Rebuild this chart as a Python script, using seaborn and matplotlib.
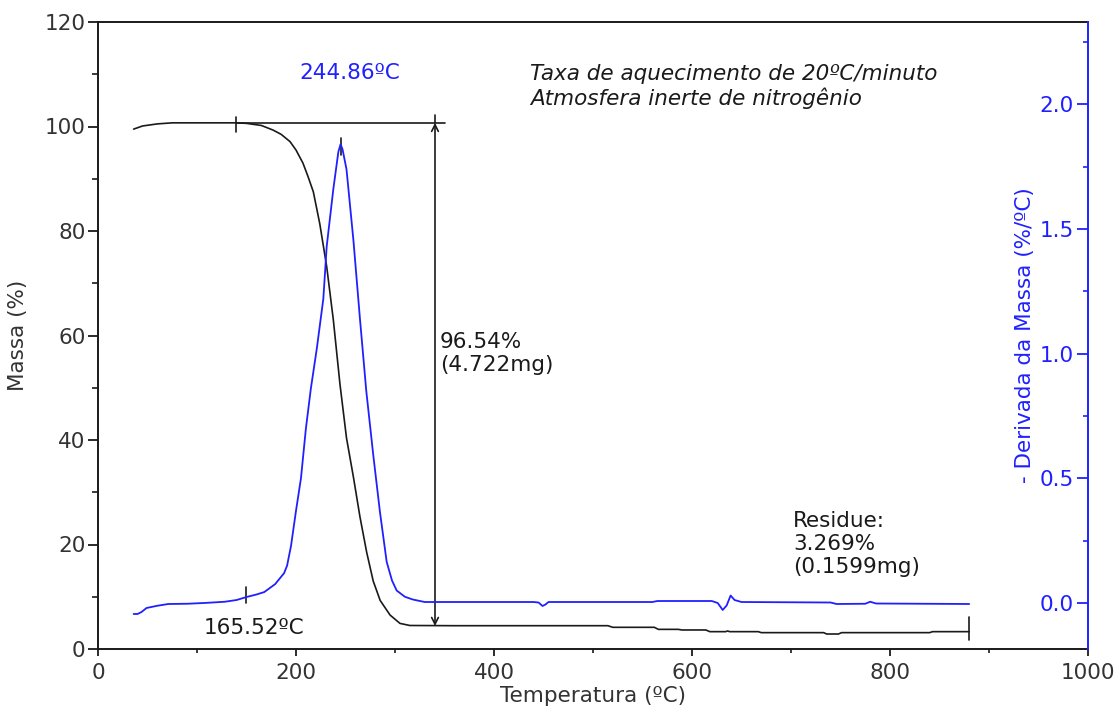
import matplotlib
matplotlib.use("Agg")
import matplotlib.pyplot as plt
from matplotlib.ticker import MultipleLocator
import seaborn as sns
import pandas as pd

# ----------------------------------------------------------------------
# Data read off the TGA / DTG chart
# ----------------------------------------------------------------------
mass_temp = [36, 45, 60, 75, 100, 140, 150, 165, 177, 185, 194, 200, 207, 212,
             217.5, 224, 231, 237.7, 244.4, 251, 258, 264.6, 271.4, 278, 285,
             295, 305, 315, 360, 515, 520, 562, 566, 586, 590, 614, 618, 634,
             636, 638, 667, 670, 733, 736, 748, 751, 840, 843, 880]
mass_pct = [99.5, 100.1, 100.5, 100.7, 100.7, 100.7, 100.6, 100.2, 99.3, 98.5,
            97.1, 95.5, 93.0, 90.5, 87.5, 81.4, 73.2, 63.0, 50.7, 40.4, 32.9,
            25.3, 18.5, 13.0, 9.3, 6.5, 4.9, 4.5, 4.46, 4.46, 4.15, 4.15, 3.76,
            3.76, 3.64, 3.64, 3.32, 3.32, 3.45, 3.32, 3.32, 3.13, 3.13, 2.87,
            2.87, 3.13, 3.13, 3.32, 3.32]

deriv_temp = [36, 40, 44, 49, 60, 71, 90, 107, 128, 140, 150, 160, 168, 179,
              188, 191, 195, 200, 205, 210, 215, 221, 227.6, 231, 237.7, 242.8,
              245, 247, 251, 258, 264.6, 271, 278, 284.8, 291.6, 297, 301.7,
              310, 318, 330, 440, 445, 449, 452, 455, 560, 565, 620, 626, 631,
              635, 639, 643, 650, 740, 746, 775, 780, 786, 880]
deriv_val = [-0.044, -0.044, -0.036, -0.02, -0.011, -0.004, -0.003, 0.0, 0.005,
             0.012, 0.024, 0.034, 0.044, 0.076, 0.12, 0.15, 0.23, 0.37, 0.50,
             0.70, 0.86, 1.02, 1.22, 1.43, 1.66, 1.81, 1.84, 1.82, 1.74, 1.455,
             1.14, 0.85, 0.595, 0.365, 0.165, 0.09, 0.05, 0.025, 0.014, 0.004,
             0.004, 0.002, -0.012, -0.006, 0.004, 0.004, 0.008, 0.008, 0.0,
             -0.028, -0.01, 0.03, 0.012, 0.004, 0.002, -0.004, -0.003, 0.005,
             -0.002, -0.004]

onset_temp = 139          # tangent mark on the mass curve
plateau_mass = 100.7
residue_mass = 4.4
step_temp = 340.4         # vertical double arrow
peak_temp = 245
dtg_mark_temp = 149.5
end_temp = 880

BLUE = "#2020ff"
INK = "#1a1a1a"
FS = 15.5

sns.set_theme(style="ticks")
plt.rcParams["font.family"] = ["DejaVu Sans"]
plt.rcParams["font.size"] = FS

fig = plt.figure(figsize=(11.2, 7.08), dpi=100)
ax = fig.add_axes([98 / 1120, 59 / 708, 990 / 1120, 627 / 708])
ax2 = ax.twinx()

mass_df = pd.DataFrame({"temp": mass_temp, "mass": mass_pct})
deriv_df = pd.DataFrame({"temp": deriv_temp, "deriv": deriv_val})

sns.lineplot(data=mass_df, x="temp", y="mass", ax=ax, color=INK, lw=1.2, sort=False)
sns.lineplot(data=deriv_df, x="temp", y="deriv", ax=ax2, color=BLUE, lw=1.3, sort=False)

# axes limits and ticks
ax.set_xlim(0, 1000)
ax.set_ylim(0, 120)
ax2.set_ylim(-0.1845, 2.3305)
ax.xaxis.set_major_locator(MultipleLocator(200))
ax.xaxis.set_minor_locator(MultipleLocator(100))
ax.yaxis.set_major_locator(MultipleLocator(20))
ax.yaxis.set_minor_locator(MultipleLocator(10))
ax2.yaxis.set_major_locator(MultipleLocator(0.5))
ax2.yaxis.set_minor_locator(MultipleLocator(0.25))
ax2.yaxis.set_major_formatter(plt.FormatStrFormatter("%.1f"))

ax.tick_params(axis="x", which="major", length=5, width=1.3, color=INK,
               labelcolor="#333333", labelsize=FS, pad=5)
ax.tick_params(axis="x", which="minor", length=3, width=1.2, color=INK)
ax.tick_params(axis="y", which="major", length=7, width=1.3, color=INK,
               labelcolor="#333333", labelsize=FS, pad=2)
ax.tick_params(axis="y", which="minor", length=4, width=1.2, color=INK)
ax.tick_params(axis="y", which="both", right=False)
ax2.tick_params(axis="y", which="major", direction="in", length=8, width=1.3,
                color=BLUE, labelcolor=BLUE, labelsize=FS, pad=-10)
ax2.tick_params(axis="y", which="minor", direction="in", length=3.5, width=1.2, color=BLUE)
plt.setp(ax2.get_yticklabels(), ha="right")

for s in ["left", "bottom", "top"]:
    ax.spines[s].set_color(INK)
    ax.spines[s].set_linewidth(1.4)
ax.spines["right"].set_visible(False)
ax2.spines["right"].set_color(BLUE)
ax2.spines["right"].set_linewidth(1.4)
for s in ["left", "bottom", "top"]:
    ax2.spines[s].set_visible(False)

ax.set_xlabel("Temperatura (ºC)", fontsize=FS, color="#333333", labelpad=2)
ax.set_ylabel("Massa (%)", fontsize=FS, color="#333333", labelpad=12)
ax2.set_ylabel("- Derivada da Massa (%/ºC)", fontsize=FS, color=BLUE,
               rotation=90, va="center", ha="center")
ax2.yaxis.set_label_coords(0.936, 0.5)

# step annotation
ax.plot([onset_temp, 351], [plateau_mass, plateau_mass], color=INK, lw=1.2)
ax.plot([onset_temp, onset_temp], [99.0, 101.8], color=INK, lw=1.2)
ax.plot([step_temp, step_temp], [plateau_mass, 102.2], color=INK, lw=1.2)
ax.annotate("", xy=(step_temp, plateau_mass), xytext=(step_temp, residue_mass),
            arrowprops=dict(arrowstyle="<->", color=INK, lw=1.2,
                            mutation_scale=12, shrinkA=0, shrinkB=0))
ax.text(step_temp + 5, 56.5, "96.54%\n(4.722mg)", fontsize=FS, color=INK,
        ha="left", va="center", linespacing=1.2)

# peak and onset of DTG
ax.plot([peak_temp, peak_temp], [94.5, 97.8], color=INK, lw=1.2)
ax.text(254, 110.2, "244.86ºC", fontsize=FS, color=BLUE, ha="center", va="center")
ax.plot([dtg_mark_temp, dtg_mark_temp], [8.8, 11.9], color=INK, lw=1.2)
ax.text(157.6, 4.0, "165.52ºC", fontsize=FS, color=INK, ha="center", va="center")

# residue
ax.plot([end_temp, end_temp], [1.7, 6.1], color=INK, lw=1.2)
ax.text(702, 20.1, "Residue:\n3.269%\n(0.1599mg)", fontsize=FS, color=INK,
        ha="left", va="center", linespacing=1.2)

ax.text(436.4, 107.75, "Taxa de aquecimento de 20ºC/minuto\nAtmosfera inerte de nitrogênio",
        fontsize=FS, style="italic", color=INK, ha="left", va="center",
        linespacing=1.2)

fig.savefig("out.png", dpi=100, facecolor="white")
